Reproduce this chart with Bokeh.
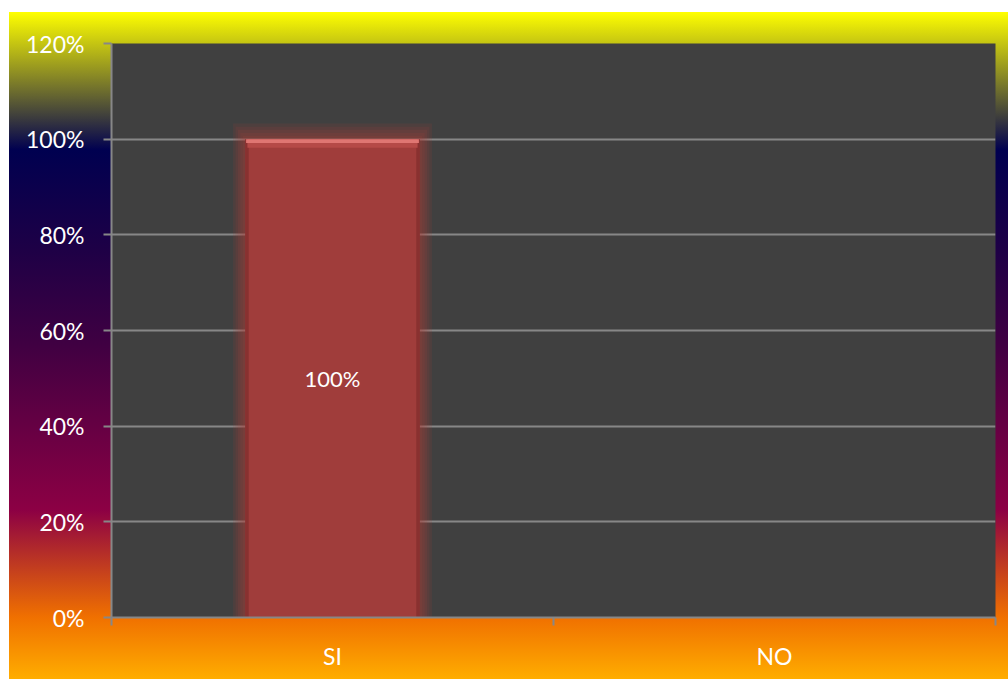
from bokeh.plotting import figure
from bokeh.models import ColumnDataSource, Range1d, FixedTicker, NumeralTickFormatter, InlineStyleSheet
from bokeh.core.properties import value
from bokeh.embed import file_html
from bokeh.resources import INLINE

categories = ["SI", "NO"]
values = [1.00, 0.00]
y_ticks = [0.0, 0.2, 0.4, 0.6, 0.8, 1.0, 1.2]

x_pos = [i + 0.5 for i in range(len(categories))]
x_bounds = [float(i) for i in range(len(categories) + 1)]
labels = [f"{round(v * 100)}%" for v in values]

FONT = "Lato"
AXIS_GRAY = "#878787"

p = figure(width=1008, height=679, output_backend="svg", toolbar_location=None,
           x_range=Range1d(0, len(categories)), y_range=Range1d(0, 1.2),
           min_border_left=111, min_border_right=13, min_border_top=43, min_border_bottom=62,
           background_fill_color="#404040", border_fill_color=None, outline_line_color=None)

css = (":host { background: "
       "linear-gradient(to right, #ffffff 0px, #ffffff 9px, transparent 9px), "
       "linear-gradient(to bottom, #ffffff 0px, #ffffff 12px, #ffff00 12px, "
       "#000050 150px, #1e0046 250px, #3e0042 340px, #8c0044 510px, #bb3524 560px, "
       "#f07000 617px, #ffad00 679px); }")
p.stylesheets = [InlineStyleSheet(css=css)]

# grid
p.xgrid.grid_line_color = None
p.ygrid.ticker = FixedTicker(ticks=y_ticks)
p.ygrid.grid_line_color = AXIS_GRAY
p.ygrid.grid_line_width = 2

# y axis
ya = p.yaxis[0]
ya.ticker = FixedTicker(ticks=y_ticks, minor_ticks=[])
ya.formatter = NumeralTickFormatter(format="0%")
ya.axis_line_color = AXIS_GRAY
ya.axis_line_width = 2
ya.major_tick_line_color = AXIS_GRAY
ya.major_tick_line_width = 2
ya.major_tick_out = 8
ya.major_tick_in = 0
ya.minor_tick_out = 0
ya.minor_tick_in = 0
ya.major_label_text_color = "white"
ya.major_label_text_font = FONT
ya.major_label_text_font_size = "23px"
ya.major_label_standoff = 19

# x axis
xa = p.xaxis[0]
xa.ticker = FixedTicker(ticks=x_pos, minor_ticks=x_bounds)
xa.major_label_overrides = {x: c for x, c in zip(x_pos, categories)}
xa.axis_line_color = AXIS_GRAY
xa.axis_line_width = 2
xa.major_tick_out = 0
xa.major_tick_in = 0
xa.major_tick_line_color = None
xa.minor_tick_out = 8
xa.minor_tick_in = 0
xa.minor_tick_line_color = AXIS_GRAY
xa.minor_tick_line_width = 2
xa.major_label_text_color = "white"
xa.major_label_text_font = FONT
xa.major_label_text_font_size = "23px"
xa.major_label_standoff = 16

BAR_W = 0.395

# glow layers
for k in range(5, 0, -1):
    gx = [x for x, v in zip(x_pos, values) if v > 0]
    gtop = [v + 0.0065 * k for v in values if v > 0]
    p.vbar(x=gx, top=gtop, bottom=0, width=BAR_W + 0.011 * k,
           fill_color="#b03a38", fill_alpha=0.13, line_color=None)

src = ColumnDataSource(dict(x=x_pos, top=values, label=labels))
p.vbar(x="x", top="top", bottom=0, width=BAR_W, source=src,
       fill_color="#a03d3b", line_color=None)

# side shading / top bevel
bx = [x for x, v in zip(x_pos, values) if v > 0]
bt = [v for v in values if v > 0]
p.vbar(x=[x - BAR_W / 2 + 0.004 for x in bx], top=bt, bottom=0, width=0.008,
       fill_color="#7a2a2a", fill_alpha=0.6, line_color=None)
p.vbar(x=[x + BAR_W / 2 - 0.004 for x in bx], top=bt, bottom=0, width=0.008,
       fill_color="#7a2a2a", fill_alpha=0.6, line_color=None)
p.vbar(x=bx, top=bt, bottom=[v - 0.018 for v in bt], width=BAR_W - 0.01,
       fill_color="#b54a47", line_color=None)
p.vbar(x=bx, top=bt, bottom=[v - 0.008 for v in bt], width=BAR_W - 0.004,
       fill_color="#df7672", line_color=None)

# data labels
lsrc = ColumnDataSource(dict(x=bx, y=[v / 2 for v in bt],
                             label=[l for l, v in zip(labels, values) if v > 0]))
p.text(x="x", y="y", text="label", source=lsrc, text_color="white",
       text_font=value(FONT), text_font_size="22px",
       text_align="center", text_baseline="middle")

open("out.html", "w").write(file_html(p, INLINE))
